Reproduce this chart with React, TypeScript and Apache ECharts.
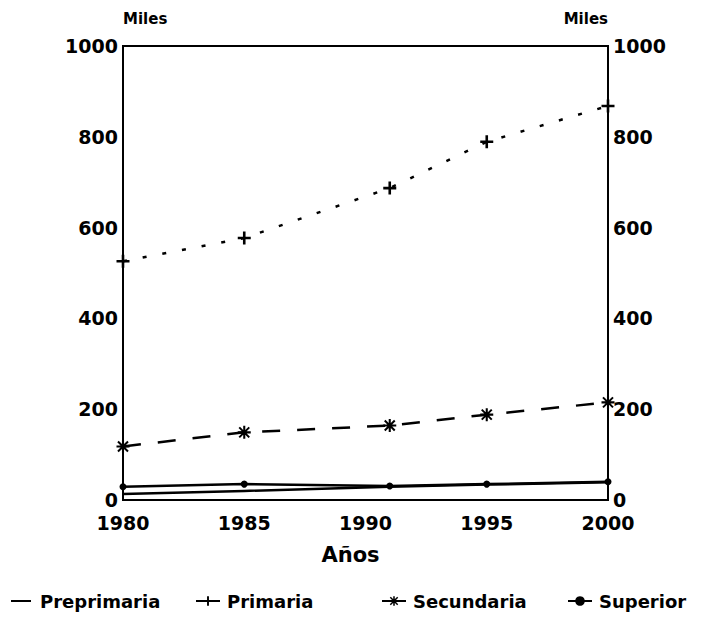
import React, { useEffect, useRef } from "react";
import * as echarts from "echarts";

const years = [1980, 1985, 1991, 1995, 2000];
const preprimaria = [13, 20, 29, 34, 39];
const primaria = [526, 577, 687, 789, 868];
const secundaria = [118, 149, 164, 188, 215];
const superior = [29, 35, 31, 35, 40];
const seriesNames = ["Preprimaria", "Primaria", "Secundaria", "Superior"];
const yTicks = { min: 0, max: 1000, interval: 200 };
const xTicks = { min: 1980, max: 2000, interval: 5 };

const PLUS = "path://M0,4 L10,4 L10,6 L0,6 Z M4,0 L6,0 L6,10 L4,10 Z";
const STAR =
  "path://M0,4.2 L10,4.2 L10,5.8 L0,5.8 Z M4.2,0 L5.8,0 L5.8,10 L4.2,10 Z M0.6,1.7 L1.7,0.6 L9.4,8.3 L8.3,9.4 Z M8.3,0.6 L9.4,1.7 L1.7,9.4 L0.6,8.3 Z";
const DASH = "path://M0,0 L20,0 L20,2 L0,2 Z";

const FONT = "DejaVu Sans";
const txt = (size: number) => ({
  fontFamily: FONT,
  fontWeight: "bold" as const,
  fontSize: size,
  color: "#000",
});

const pairs = (vals: number[]) => years.map((y, i) => [y, vals[i]]);
const plain = (v: number) => String(v);

export default function App() {
  const ref = useRef<HTMLDivElement>(null);
  useEffect(() => {
    if (!ref.current) return;
    const chart = echarts.init(ref.current, undefined, { renderer: "svg" });
    const legendBase = {
      top: 587,
      itemWidth: 24,
      itemHeight: 12,
      itemGap: 0,
      textStyle: { ...txt(18), padding: [0, 0, 0, 2] },
      inactiveColor: "#000",
    };
    const yAxisBase = {
      type: "value",
      min: yTicks.min,
      max: yTicks.max,
      interval: yTicks.interval,
      axisLine: { show: true, lineStyle: { color: "#000", width: 2 } },
      axisTick: { show: false },
      splitLine: { show: false },
      axisLabel: { ...txt(19), margin: 5, formatter: plain },
      name: "Miles",
      nameLocation: "end",
      nameGap: 20,
    };
    chart.setOption({
      animation: false,
      backgroundColor: "#fff",
      grid: {
        left: 123,
        right: 118,
        top: 46,
        bottom: 118,
        show: true,
        borderColor: "#000",
        borderWidth: 2,
      },
      xAxis: {
        type: "value",
        min: xTicks.min,
        max: xTicks.max,
        interval: xTicks.interval,
        axisLine: { show: true, lineStyle: { color: "#000", width: 2 } },
        axisTick: { show: false },
        splitLine: { show: false },
        axisLabel: { ...txt(19), margin: 13, formatter: plain },
        name: "Años",
        nameLocation: "middle",
        nameGap: 44,
        nameTextStyle: { ...txt(21), padding: [0, 30, 0, 0] },
      },
      yAxis: [
        { ...yAxisBase, position: "left", nameTextStyle: { ...txt(15), align: "left" } },
        { ...yAxisBase, position: "right", nameTextStyle: { ...txt(15), align: "right" } },
      ],
      legend: [
        {
          ...legendBase,
          left: 6,
          itemHeight: 2,
          data: [{ name: seriesNames[0], icon: DASH }],
        },
        {
          ...legendBase,
          left: 190,
          data: [{ name: seriesNames[1], lineStyle: { type: "solid", width: 2 } }],
        },
        {
          ...legendBase,
          left: 376,
          data: [{ name: seriesNames[2], lineStyle: { type: "solid", width: 2 } }],
        },
        { ...legendBase, left: 562, data: [seriesNames[3]] },
      ],
      series: [
        {
          name: seriesNames[0],
          type: "line",
          data: pairs(preprimaria),
          symbol: "none",
          lineStyle: { color: "#000", width: 2.5 },
          itemStyle: { color: "#000" },
        },
        {
          name: seriesNames[1],
          type: "line",
          data: pairs(primaria),
          symbol: PLUS,
          symbolSize: 13,
          lineStyle: { color: "#000", width: 2.5, type: [4, 16] },
          itemStyle: { color: "#000" },
        },
        {
          name: seriesNames[2],
          type: "line",
          data: pairs(secundaria),
          symbol: STAR,
          symbolSize: 13,
          lineStyle: { color: "#000", width: 2.5, type: [18, 17] },
          itemStyle: { color: "#000" },
        },
        {
          name: seriesNames[3],
          type: "line",
          data: pairs(superior),
          symbol: "circle",
          symbolSize: 7,
          lineStyle: { color: "#000", width: 2.5 },
          itemStyle: { color: "#000" },
        },
      ],
    });
    return () => chart.dispose();
  }, []);
  return (
    <div
      ref={ref}
      style={{ position: "fixed", left: 0, top: 0, width: 726, height: 618, background: "#fff" }}
    />
  );
}
